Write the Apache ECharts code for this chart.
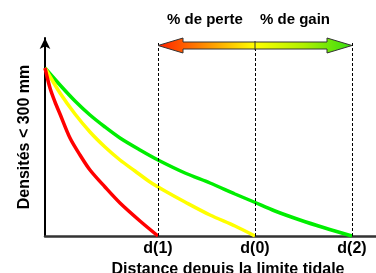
<!DOCTYPE html>
<html>
<head>
<meta charset="utf-8">
<script src="https://cdn.jsdelivr.net/npm/echarts@6/dist/echarts.min.js"></script>
<style>
  html, body { margin: 0; padding: 0; background: #fff; }
  #chart { width: 376px; height: 273px; }
</style>
</head>
<body>
<div id="chart"></div>
<script>
// distances (x) and densities (y)
const tickPos = [113, 210, 307]
const tickLabels = ['d(1)', 'd(0)', 'd(2)']

const redX = [0, 5, 10, 15, 25, 35, 45, 60, 75, 95, 113]
const redY = [168, 148, 134, 122, 98, 81, 66, 49, 33, 15, 0]

const yellowX = [0, 15, 30, 45, 60, 75, 90, 105, 120, 140, 165, 190, 210]
const yellowY = [168, 143, 122, 104, 89, 76, 65, 54, 45, 34, 21, 10, 0]

const greenX = [0, 15, 30, 45, 60, 75, 95, 113, 140, 165, 190, 209, 230, 255, 280, 307]
const greenY = [168, 151, 135, 121, 109, 98, 86, 76, 63, 53, 42, 34, 25, 16, 8, 0]

const font = 'Liberation Sans, Arial, Helvetica, sans-serif'

function pairs (xs, ys) {
  return xs.map((x, i) => [x, ys[i]])
}

function curve (name, color, xs, ys) {
  return {
    name: name,
    type: 'line',
    smooth: 0.3,
    symbol: 'none',
    lineStyle: { color: color, width: 3.5 },
    data: pairs(xs, ys)
  }
}

const chart = echarts.init(document.getElementById('chart'))

const gainLoss = new echarts.graphic.LinearGradient(0, 0, 1, 0, [
  { offset: 0, color: '#ff2000' },
  { offset: 0.25, color: '#ff9000' },
  { offset: 0.5, color: '#ffff00' },
  { offset: 0.75, color: '#b0f000' },
  { offset: 1, color: '#33dd11' }
])

chart.setOption({
  animation: false,
  grid: { left: 45, right: 0, top: 38, bottom: 37, outerBoundsMode: 'none' },
  xAxis: {
    type: 'value',
    min: 0,
    max: 331,
    splitLine: { show: false },
    axisTick: { show: false },
    axisLine: { lineStyle: { color: '#333', width: 2.5 } },
    axisLabel: {
      customValues: tickPos,
      formatter: v => tickLabels[tickPos.indexOf(v)] || '',
      color: '#000',
      fontFamily: font,
      fontWeight: 'bold',
      fontSize: 16,
      margin: 5
    },
    name: 'Distance depuis la limite tidale',
    nameLocation: 'middle',
    nameGap: 26,
    nameTextStyle: {
      color: '#000',
      fontFamily: font,
      fontWeight: 'bold',
      fontSize: 16,
      padding: [0, 0, 0, 35]
    }
  },
  yAxis: {
    type: 'value',
    min: 0,
    max: 198,
    splitLine: { show: false },
    axisTick: { show: false },
    axisLabel: { show: false },
    axisLine: {
      symbol: ['none', 'arrow'],
      symbolSize: [8, 11],
      lineStyle: { color: '#000', width: 2 }
    },
    name: 'Densités < 300 mm',
    nameLocation: 'middle',
    nameGap: 12,
    nameTextStyle: {
      color: '#000',
      fontFamily: font,
      fontWeight: 'bold',
      fontSize: 16
    }
  },
  series: [
    Object.assign(curve('d(2)', '#00ee00', greenX, greenY), {
      markLine: {
        silent: true,
        symbol: 'none',
        label: { show: false },
        lineStyle: { color: '#000', type: [3, 2], width: 1 },
        data: tickPos.map(x => [{ coord: [x, 0] }, { coord: [x, 194] }])
      }
    }),
    curve('d(0)', '#ffff00', yellowX, yellowY),
    curve('d(1)', '#ff0000', redX, redY)
  ],
  graphic: [
    {
      type: 'polygon',
      shape: {
        points: [
          [158, 45.5], [183, 38], [183, 42], [327, 42], [327, 38],
          [352, 45.5], [327, 53], [327, 49], [183, 49], [183, 53]
        ]
      },
      style: { fill: gainLoss, stroke: '#333', lineWidth: 1 },
      z: 10
    },
    {
      type: 'line',
      shape: { x1: 255, y1: 41, x2: 255, y2: 50 },
      style: { stroke: '#333', lineWidth: 1 },
      z: 11
    },
    {
      type: 'text',
      left: 167,
      top: 12,
      style: {
        text: '% de perte',
        fill: '#000',
        font: 'bold 15px ' + font
      }
    },
    {
      type: 'text',
      left: 260,
      top: 12,
      style: {
        text: '% de gain',
        fill: '#000',
        font: 'bold 15px ' + font
      }
    }
  ]
})
</script>
</body>
</html>
